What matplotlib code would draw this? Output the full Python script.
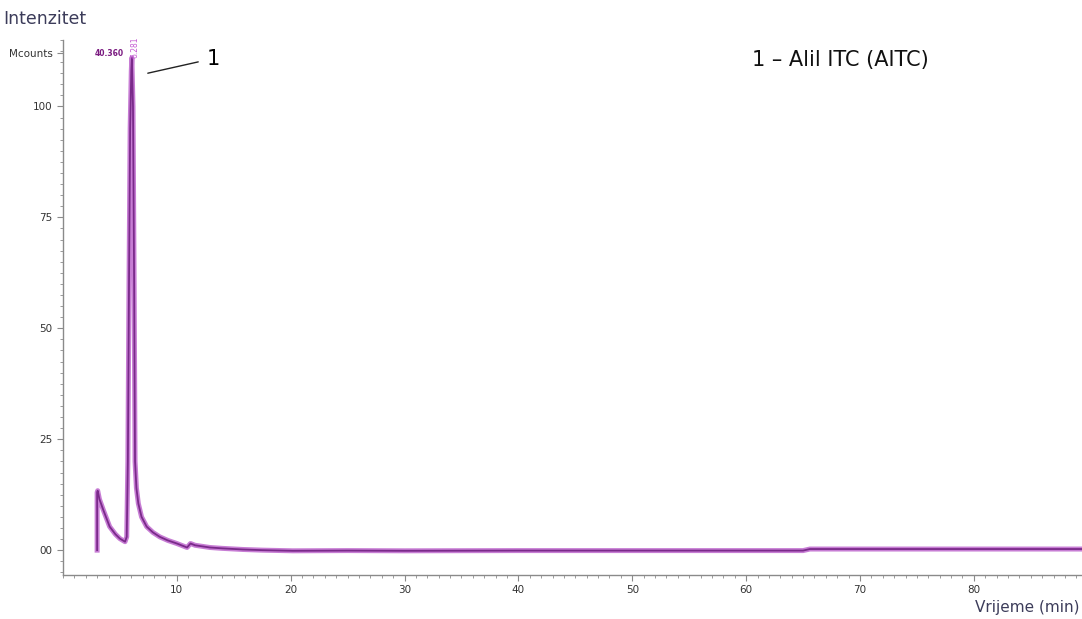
import matplotlib
matplotlib.use('Agg')
import matplotlib.pyplot as plt
from matplotlib.ticker import MultipleLocator

# Chromatogram trace (time in min, intensity in Mcounts)
time = [3.0, 3.0, 3.05, 3.2, 3.55, 4.1, 4.6, 5.0, 5.45, 5.6, 5.7, 5.8, 5.9, 6.0, 6.05,
        6.15, 6.25, 6.33, 6.45, 6.62, 6.9, 7.35, 7.9, 8.5, 9.2, 10.0, 10.5, 10.9,
        11.2, 11.6, 12.9, 14.0, 15.8, 17.5, 20.2, 25.0, 30.0, 40.0, 50.0, 60.0,
        65.0, 65.6, 70.0, 80.0, 89.5]
intensity = [0.0, 13.0, 13.4, 11.5, 9.0, 5.3, 3.6, 2.6, 1.9, 3.0, 20.0, 60.0, 95.0,
             108.0, 111.0, 100.0, 60.0, 20.0, 14.0, 10.5, 7.5, 5.3, 4.0, 3.0, 2.2,
             1.5, 1.0, 0.6, 1.5, 1.1, 0.6, 0.4, 0.15, 0.0, -0.15, -0.1, -0.15,
             -0.1, -0.1, -0.1, -0.1, 0.25, 0.25, 0.25, 0.25]

yticks = [0, 25, 50, 75, 100, 112]
ytick_labels = ['00', '25', '50', '75', '100', 'Mcounts']
xticks = [10, 20, 30, 40, 50, 60, 70, 80]


def main():
    fig = plt.figure(figsize=(10.82, 6.19), dpi=100)
    ax = fig.add_axes([0.0582, 0.0711, 0.9418, 0.8644])

    # pinkish trace with a darker purple core
    ax.plot(time, intensity, color='#c77dd4', lw=3.6, solid_joinstyle='round')
    ax.plot(time, intensity, color='#7a2a8a', lw=1.3)

    ax.set_xlim(0, 89.5)
    ax.set_ylim(-5.6, 115)

    for s in ['top', 'right']:
        ax.spines[s].set_visible(False)
    for s in ['left', 'bottom']:
        ax.spines[s].set_color('#8a8a8a')
        ax.spines[s].set_linewidth(1.0)

    ax.set_xticks(xticks)
    ax.set_xticklabels([str(x) for x in xticks])
    ax.set_yticks(yticks)
    ax.set_yticklabels(ytick_labels)
    ax.xaxis.set_minor_locator(MultipleLocator(1))
    ax.yaxis.set_minor_locator(MultipleLocator(2.5))
    ax.tick_params(which='both', direction='out', colors='#8a8a8a',
                   labelcolor='#333333', labelsize=7.5)
    ax.tick_params(which='major', length=4)
    ax.tick_params(which='minor', length=2.5)

    # peak labels from the instrument
    ax.text(2.8, 112, '40.360', color='#7a1a80', fontsize=5.5, fontweight='bold',
            ha='left', va='center')
    ax.text(6.3, 111, '6.281', color='#c45ad2', fontsize=5.5, rotation=90,
            ha='center', va='bottom')

    # annotation for peak 1
    ax.annotate('1', xy=(7.45, 107.5), xytext=(12.6, 110.8), fontsize=15,
                va='center', ha='left',
                arrowprops=dict(arrowstyle='-', color='#222222', lw=1.0,
                                shrinkA=4, shrinkB=0))
    ax.text(60.5, 110.5, '1 – Alil ITC (AITC)', fontsize=15, color='#111111',
            ha='left', va='center')

    fig.text(0.003, 0.97, 'Intenzitet', fontsize=12.5, color='#3c3c5a',
             ha='left', va='center')
    fig.text(0.998, 0.019, 'Vrijeme (min)', fontsize=11, color='#3c3c5a',
             ha='right', va='center')

    fig.savefig('out.png', dpi=100)


if __name__ == '__main__':
    main()
